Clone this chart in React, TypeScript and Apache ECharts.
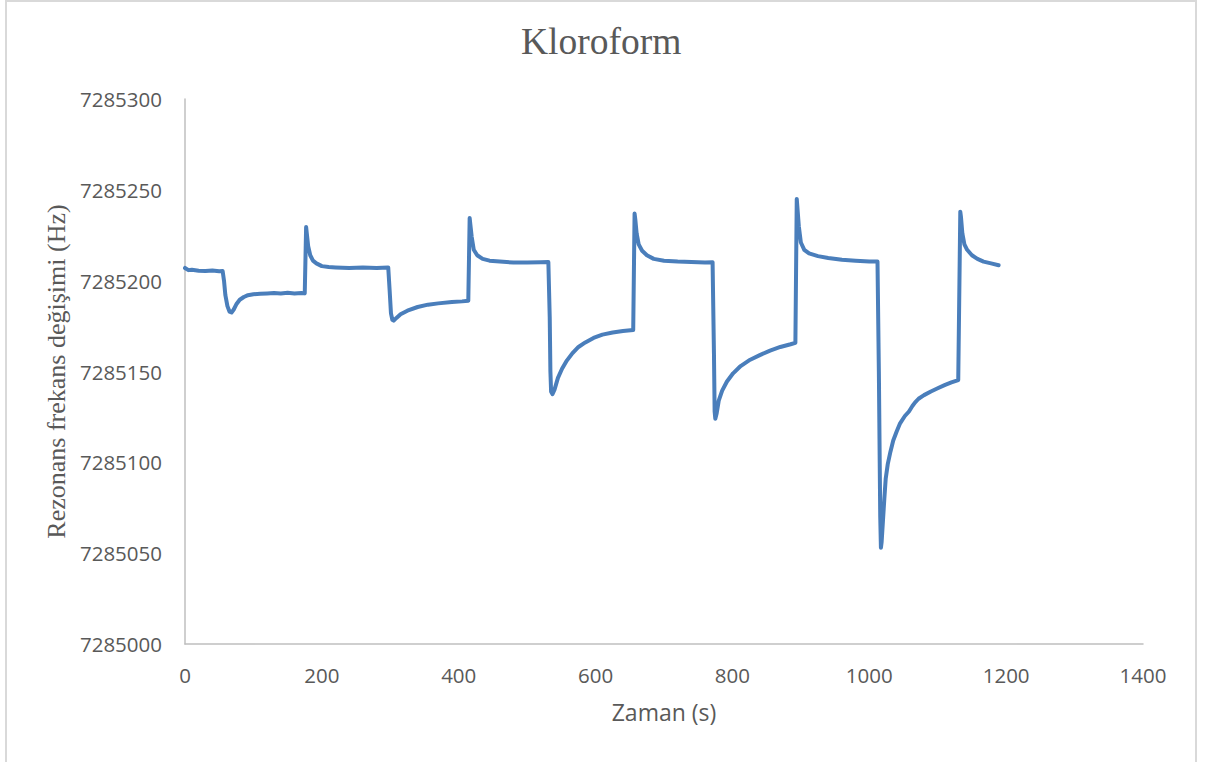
import React, { useEffect, useRef } from "react";
import * as echarts from "echarts";

// Measurement time (s)
const timeSec = [
  0, 5, 10, 20, 30, 40, 50, 55,
  57, 59, 62, 65, 68, 71, 75, 80, 86, 92, 100, 110, 120, 130, 140, 150, 160, 170, 175,
  177, 178, 180, 183, 187, 192, 200, 210, 220, 240, 260, 280, 297,
  299, 301, 303, 305, 309, 315, 325, 340, 355, 370, 390, 405, 414,
  416, 417, 419, 422, 427, 435, 445, 460, 480, 500, 520, 531,
  533, 534, 535, 537, 540, 545, 551, 558, 566, 575, 585, 597, 610, 625, 640, 655,
  657, 658, 660, 663, 668, 675, 685, 700, 720, 740, 760, 771,
  773, 774, 775, 777, 780, 785, 792, 801, 812, 826, 840, 855, 870, 885, 892,
  894, 895, 897, 900, 905, 912, 925, 940, 960, 980, 1000, 1012,
  1014, 1016, 1017, 1018, 1020, 1022, 1024, 1027, 1031, 1035, 1040, 1045, 1052, 1058, 1063, 1067, 1072, 1080, 1090, 1100, 1110, 1120, 1130,
  1133, 1134, 1136, 1139, 1143, 1150, 1158, 1167, 1178, 1189,
];

// Resonance frequency (Hz)
const freqHz = [
  7285207.0, 7285205.8, 7285206.0, 7285205.5, 7285205.3, 7285205.6, 7285205.2, 7285205.3,
  7285200.0, 7285192.0, 7285186.0, 7285183.0, 7285182.5, 7285184.0, 7285187.0, 7285189.5, 7285191.0, 7285192.0, 7285192.5, 7285192.8, 7285193.0, 7285193.2, 7285193.0, 7285193.3, 7285193.0, 7285193.2, 7285193.0,
  7285229.5, 7285226.0, 7285219.0, 7285214.0, 7285211.0, 7285209.5, 7285208.0, 7285207.5, 7285207.3, 7285207.0, 7285207.2, 7285207.0, 7285207.3,
  7285195.0, 7285182.0, 7285178.5, 7285178.0, 7285179.5, 7285181.5, 7285183.5, 7285185.5, 7285186.8, 7285187.5, 7285188.2, 7285188.6, 7285189.0,
  7285234.5, 7285231.0, 7285224.0, 7285217.0, 7285214.0, 7285212.0, 7285211.0, 7285210.5, 7285210.0, 7285210.0, 7285210.2, 7285210.3,
  7285180.0, 7285150.0, 7285139.0, 7285137.5, 7285140.0, 7285146.5, 7285151.5, 7285156.0, 7285160.0, 7285163.5, 7285166.0, 7285168.5, 7285170.3, 7285171.5, 7285172.3, 7285172.8,
  7285237.0, 7285234.0, 7285226.0, 7285220.0, 7285216.5, 7285214.0, 7285212.0, 7285211.0, 7285210.5, 7285210.3, 7285210.0, 7285210.2,
  7285160.0, 7285128.0, 7285124.0, 7285127.0, 7285134.0, 7285139.5, 7285144.5, 7285149.0, 7285153.0, 7285156.5, 7285159.0, 7285161.5, 7285163.5, 7285165.0, 7285165.8,
  7285245.0, 7285240.0, 7285230.0, 7285221.0, 7285217.0, 7285215.0, 7285213.5, 7285212.5, 7285211.5, 7285211.0, 7285210.5, 7285210.5,
  7285150.0, 7285070.0, 7285053.0, 7285056.0, 7285068.0, 7285080.0, 7285091.0, 7285099.0, 7285106.0, 7285112.0, 7285117.0, 7285121.5, 7285125.5, 7285128.0, 7285131.0, 7285133.0, 7285135.0, 7285137.0, 7285139.0, 7285140.8, 7285142.5, 7285144.0, 7285145.3,
  7285238.0, 7285235.0, 7285226.0, 7285220.0, 7285217.0, 7285214.0, 7285212.0, 7285210.5, 7285209.5, 7285208.5,
];

const xTicks = { min: 0, max: 1400, interval: 200 };
const yTicks = { min: 7285000, max: 7285300, interval: 50 };

const TEXT_GRAY = "#595959";
const AXIS_GRAY = "#bfbfbf";
const LINE_BLUE = "#4a7ebb";
const SANS = "'Open Sans', 'Liberation Sans', sans-serif";
const SERIF = "'Liberation Serif', 'DejaVu Serif', serif";

export default function App() {
  const ref = useRef<HTMLDivElement>(null);

  useEffect(() => {
    if (!ref.current) return;
    const chart = echarts.init(ref.current, undefined, { renderer: "svg" });
    const points = timeSec.map((t, i) => [t, freqHz[i]]);

    chart.setOption({
      animation: false,
      backgroundColor: "#ffffff",
      title: {
        text: "Kloroform",
        left: 516,
        top: 17,
        textStyle: {
          fontFamily: SERIF,
          fontSize: 37.5,
          fontWeight: "normal",
          color: TEXT_GRAY,
        },
      },
      graphic: [
        {
          type: "rect",
          shape: { x: 6, y: 1, width: 1190, height: 800 },
          style: { fill: "none", stroke: "#d9d9d9", lineWidth: 2 },
          silent: true,
        },
      ],
      grid: { left: 185, right: 73, top: 99, bottom: 118, containLabel: false },
      xAxis: {
        type: "value",
        min: xTicks.min,
        max: xTicks.max,
        interval: xTicks.interval,
        name: "Zaman (s)",
        nameLocation: "middle",
        nameGap: 56,
        nameTextStyle: { fontFamily: SANS, fontSize: 23, color: TEXT_GRAY },
        axisLine: { show: true, lineStyle: { color: AXIS_GRAY, width: 1.5 } },
        axisTick: { show: false },
        splitLine: { show: false },
        axisLabel: {
          fontFamily: SANS,
          fontSize: 20.5,
          color: TEXT_GRAY,
          margin: 20,
          formatter: (v: number) => String(v),
        },
      },
      yAxis: {
        type: "value",
        min: yTicks.min,
        max: yTicks.max,
        interval: yTicks.interval,
        name: "Rezonans frekans değişimi (Hz)",
        nameLocation: "middle",
        nameGap: 116,
        nameTextStyle: { fontFamily: SERIF, fontSize: 26, color: TEXT_GRAY },
        axisLine: { show: true, lineStyle: { color: AXIS_GRAY, width: 1.5 } },
        axisTick: { show: false },
        splitLine: { show: false },
        axisLabel: {
          fontFamily: SANS,
          fontSize: 20.5,
          color: TEXT_GRAY,
          margin: 23,
          formatter: (v: number) => String(v),
        },
      },
      series: [
        {
          type: "line",
          data: points,
          showSymbol: false,
          symbol: "none",
          lineStyle: { color: LINE_BLUE, width: 4, join: "round", cap: "round" },
        },
      ],
    });

    return () => chart.dispose();
  }, []);

  return (
    <div
      ref={ref}
      style={{ position: "fixed", left: 0, top: 0, width: 1216, height: 762, background: "#fff" }}
    />
  );
}
